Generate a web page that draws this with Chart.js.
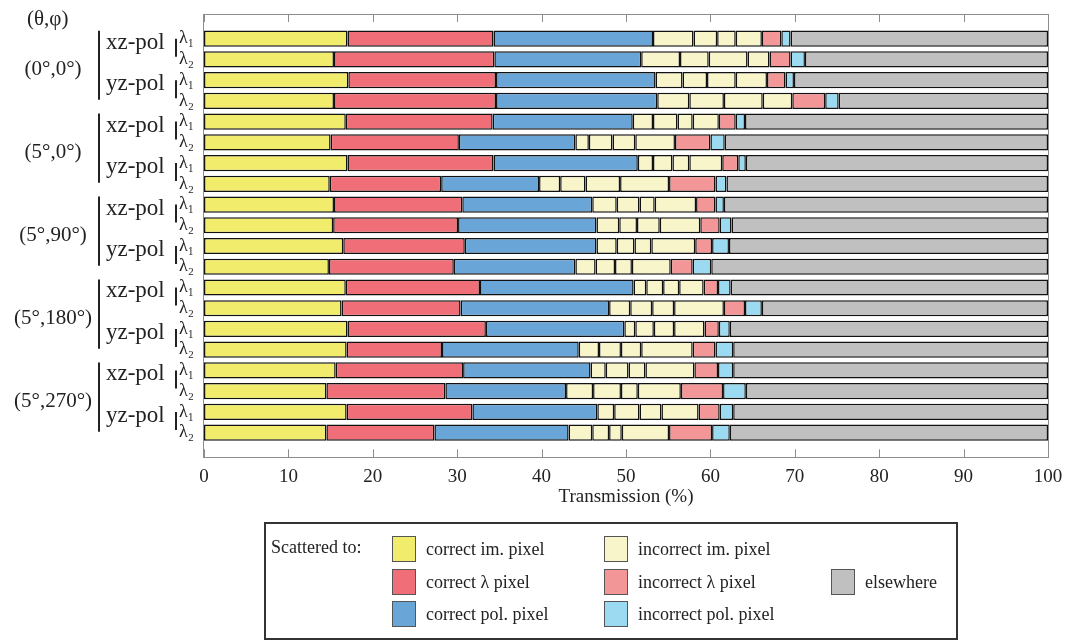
<!DOCTYPE html>
<html><head><meta charset="utf-8">
<script src="https://cdn.jsdelivr.net/npm/chart.js@4"></script>
<style>
body{margin:0;background:#fff;}
#wrap{position:relative;width:1073px;height:642px;overflow:hidden;}
#c{position:absolute;left:0;top:0;}
#legend{position:absolute;left:264px;top:522px;width:694px;height:118px;box-sizing:border-box;border:2px solid #333;font-family:"Liberation Serif",serif;font-size:18px;color:#222;}
#legend .t{position:absolute;white-space:nowrap;line-height:20px;}
#legend .s{position:absolute;width:24px;height:26px;box-sizing:border-box;border:1px solid #555;}
</style></head>
<body><div id="wrap"><canvas id="c" width="1073" height="642"></canvas><div id="legend"></div></div>
<script>
// ---- data ----
const rowLabels = ['λ₁','λ₂','λ₁','λ₂','λ₁','λ₂','λ₁','λ₂','λ₁','λ₂','λ₁','λ₂','λ₁','λ₂','λ₁','λ₂','λ₁','λ₂','λ₁','λ₂'];
const groupLabels = ['(0°,0°)','(5°,0°)','(5°,90°)','(5°,180°)','(5°,270°)'];
const polLabels = ['xz-pol','yz-pol'];
const xTicks = [0,10,20,30,40,50,60,70,80,90,100];

const correctIm  = [17.0,15.4,17.1,15.4,16.8,15.0,17.0,14.9,15.4,15.3,16.5,14.8,16.8,16.3,17.0,16.9,15.6,14.5,16.9,14.5];
const correctLam = [17.3,19.0,17.5,19.2,17.4,15.2,17.3,13.2,15.2,14.8,14.4,14.8,15.9,14.1,16.4,11.3,15.1,14.1,14.9,12.8];
const correctPol = [18.9,17.4,18.9,19.1,16.6,13.8,17.1,11.6,15.4,16.4,15.6,14.4,18.2,17.6,16.4,16.2,15.1,14.3,14.8,15.9];
const incorrectIm1 = [4.8,4.6,3.2,3.8,2.4,1.6,1.8,2.5,2.9,2.7,2.4,2.4,1.5,2.5,1.3,2.4,1.8,3.2,2.0,2.8];
const incorrectIm2 = [2.8,3.4,2.9,4.1,2.9,2.8,2.3,3.0,2.7,2.1,2.1,2.3,2.0,2.6,2.2,2.6,2.7,3.3,3.0,2.0];
const incorrectIm3 = [2.2,4.6,3.4,4.6,1.8,2.7,2.0,4.1,1.8,2.7,2.0,2.0,1.9,2.6,2.4,2.4,2.0,2.0,2.6,1.5];
const incorrectIm4 = [3.1,2.6,3.7,3.5,3.1,4.7,3.9,5.8,4.9,4.8,5.2,4.6,2.9,5.9,3.6,6.1,5.8,5.1,4.4,5.6];
const incorrectLam = [2.3,2.5,2.2,3.9,2.0,4.2,1.9,5.5,2.3,2.3,2.0,2.6,1.7,2.5,1.7,2.7,2.8,5.0,2.5,5.1];
const incorrectPol = [1.1,1.7,1.0,1.6,1.1,1.7,0.9,1.3,1.0,1.4,2.0,2.2,1.5,2.0,1.3,2.1,1.8,2.7,1.6,2.1];
const elsewhere = [30.5,28.8,30.1,24.8,35.9,38.3,35.8,38.1,38.4,37.5,37.8,39.9,37.6,33.9,37.7,37.3,37.3,35.8,37.3,37.7];

const C = {
  yellow:'#f1ec6b', red:'#ef6e77', blue:'#6aa5d8', lyellow:'#f7f5c9',
  pink:'#f29697', lblue:'#9bdaf0', grey:'#c0c0c0'
};

const seriesDefs = [
  ['correct im. pixel', correctIm, C.yellow],
  ['correct λ pixel', correctLam, C.red],
  ['correct pol. pixel', correctPol, C.blue],
  ['incorrect im. pixel', incorrectIm1, C.lyellow],
  ['incorrect im. pixel', incorrectIm2, C.lyellow],
  ['incorrect im. pixel', incorrectIm3, C.lyellow],
  ['incorrect im. pixel', incorrectIm4, C.lyellow],
  ['incorrect λ pixel', incorrectLam, C.pink],
  ['incorrect pol. pixel', incorrectPol, C.lblue],
  ['elsewhere', elsewhere, C.grey]
];

const SERIF = '"Liberation Serif", "Times New Roman", serif';

const decor = {
  id:'decor',
  afterDraw(chart){
    const {ctx} = chart; const x = chart.scales.x, y = chart.scales.y;
    const py = i => y.getPixelForValue(i);
    const band = py(1)-py(0);
    const top = py(0) - 1.19*band, bottom = py(19) + 1.19*band;
    const left = x.getPixelForValue(0), right = x.getPixelForValue(100);
    ctx.save();
    ctx.strokeStyle = '#8c8c8c'; ctx.lineWidth = 1;
    ctx.strokeRect(Math.round(left)-0.5, Math.round(top)+0.5, Math.round(right-left)+1, Math.round(bottom-top));
    xTicks.forEach(v=>{
      const px = Math.round(x.getPixelForValue(v))+0.5;
      ctx.beginPath(); ctx.moveTo(px, bottom); ctx.lineTo(px, bottom-8);
      ctx.moveTo(px, top); ctx.lineTo(px, top+8); ctx.stroke();
    });
    ctx.fillStyle = '#222'; ctx.strokeStyle = '#222';
    ctx.font = '21px ' + SERIF; ctx.textAlign='left'; ctx.textBaseline='middle';
    ctx.fillText('(θ,φ)', 27, 19);
    groupLabels.forEach((g, gi)=>{
      const r0 = gi*4;
      ctx.font = '21px ' + SERIF; ctx.textAlign='center'; ctx.textBaseline='middle';
      ctx.fillText(g, 53, (py(r0+1)+py(r0+2))/2);
      ctx.lineWidth = 2;
      ctx.beginPath(); ctx.moveTo(99, py(r0)-8); ctx.lineTo(99, py(r0+3)-1); ctx.stroke();
      polLabels.forEach((p, pi)=>{
        const r = r0 + pi*2;
        ctx.font = '23px ' + SERIF; ctx.textAlign='left'; ctx.textBaseline='alphabetic';
        ctx.fillText(p, 106, py(r)+10);
        ctx.beginPath(); ctx.moveTo(176, py(r)); ctx.lineTo(176, py(r)+18); ctx.stroke();
      });
    });
    ctx.restore();
  }
};

new Chart(document.getElementById('c'), {
  type:'bar',
  data:{
    labels: rowLabels,
    datasets: seriesDefs.map(([label, data, color])=>({
      label, data, backgroundColor: color, borderColor:'#111', borderWidth:1.5,
      borderSkipped:false, barPercentage:0.78, categoryPercentage:1
    }))
  },
  options:{
    indexAxis:'y', responsive:false, animation:false,
    layout:{padding:{top:28.3, right:25, left:0, bottom:0}},
    plugins:{legend:{display:false}, tooltip:{enabled:false}},
    scales:{
      x:{stacked:true, min:0, max:100,
        ticks:{stepSize:10, color:'#222', padding:15, font:{family:SERIF, size:19}},
        grid:{display:false}, border:{display:false},
        title:{display:true, text:'Transmission (%)', color:'#222', font:{family:SERIF, size:19}, padding:{top:0, bottom:134}},
        afterFit(s){ s.height = 199; s.paddingLeft = 0; s.paddingRight = 0; }
      },
      y:{stacked:true,
        ticks:{autoSkip:false, color:'#222', padding:2, font:{family:SERIF, size:18}},
        grid:{display:false}, border:{display:false},
        afterFit(s){ s.width = 204; s.paddingTop = 0; s.paddingBottom = 0; }
      }
    }
  },
  plugins:[decor]
});

// ---- legend (HTML) ----
const legendItems = [
  ['correct im. pixel', C.yellow, 0, 0], ['correct λ pixel', C.red, 0, 1], ['correct pol. pixel', C.blue, 0, 2],
  ['incorrect im. pixel', C.lyellow, 1, 0], ['incorrect λ pixel', C.pink, 1, 1], ['incorrect pol. pixel', C.lblue, 1, 2],
  ['elsewhere', C.grey, 2, 1]
];
const lg = document.getElementById('legend');
const colX = [126, 338, 565];
const rowY = [25, 58, 90];
let h = '<div class="t" style="left:5px;top:' + (rowY[0]-12) + 'px">Scattered to:</div>';
legendItems.forEach(([t, col, c, r])=>{
  h += '<div class="s" style="left:' + colX[c] + 'px;top:' + (rowY[r]-13) + 'px;background:' + col + '"></div>';
  h += '<div class="t" style="left:' + (colX[c]+34) + 'px;top:' + (rowY[r]-10) + 'px">' + t + '</div>';
});
lg.innerHTML = h;
</script></body></html>
